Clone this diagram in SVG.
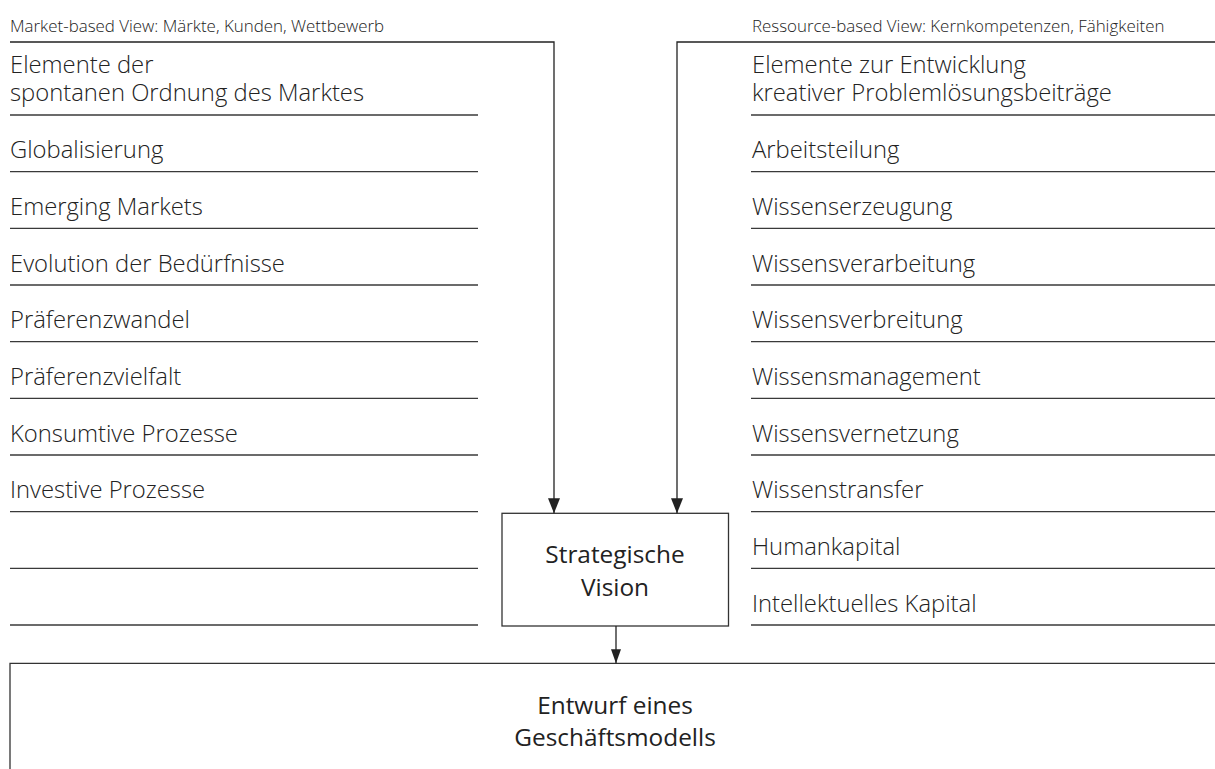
<svg xmlns="http://www.w3.org/2000/svg" width="1215" height="769" viewBox="0 0 1215 769">
  <style>
    .hdr { font-family: "Open Sans", "Liberation Sans", sans-serif; font-size: 16.9px; font-weight: 300; fill: #222; }
    .item { font-family: "Open Sans", "Liberation Sans", sans-serif; font-size: 23.8px; font-weight: 300; fill: #222; }
    .boxtxt { font-family: "Open Sans", "Liberation Sans", sans-serif; font-size: 24.4px; font-weight: 400; fill: #222; text-anchor: middle; }
    .rule { stroke: #3a3a3a; stroke-width: 1.3; fill: none; }
    .conn { stroke: #222; stroke-width: 1.3; fill: none; }
    .box { stroke: #333; stroke-width: 1.3; fill: #fff; }
  </style>
  <defs>
    <marker id="arrow" viewBox="0 0 15 12" refX="15" refY="6" markerWidth="15" markerHeight="12" markerUnits="userSpaceOnUse" orient="auto">
      <path d="M0,0 L15,6 L0,12 z" fill="#222"/>
    </marker>
    <marker id="arrowSmall" viewBox="0 0 14 10" refX="14" refY="5" markerWidth="14" markerHeight="10" markerUnits="userSpaceOnUse" orient="auto">
      <path d="M0,0 L14,5 L0,10 z" fill="#222"/>
    </marker>
  </defs>

  <!-- Market-based view column -->
  <g id="market-view">
    <text class="hdr" x="10" y="32">Market-based View: Märkte, Kunden, Wettbewerb</text>
    <text class="item" x="10" y="73">Elemente der</text>
    <text class="item" x="10" y="101">spontanen Ordnung des Marktes</text>
    <line class="rule" x1="10" y1="115" x2="478" y2="115"/>
    <text class="item" x="10" y="158.2">Globalisierung</text>
    <line class="rule" x1="10" y1="171.7" x2="478" y2="171.7"/>
    <text class="item" x="10" y="214.8">Emerging Markets</text>
    <line class="rule" x1="10" y1="228.3" x2="478" y2="228.3"/>
    <text class="item" x="10" y="271.5">Evolution der Bedürfnisse</text>
    <line class="rule" x1="10" y1="285" x2="478" y2="285"/>
    <text class="item" x="10" y="328.2">Präferenzwandel</text>
    <line class="rule" x1="10" y1="341.7" x2="478" y2="341.7"/>
    <text class="item" x="10" y="384.8">Präferenzvielfalt</text>
    <line class="rule" x1="10" y1="398.3" x2="478" y2="398.3"/>
    <text class="item" x="10" y="441.5">Konsumtive Prozesse</text>
    <line class="rule" x1="10" y1="455" x2="478" y2="455"/>
    <text class="item" x="10" y="498.2">Investive Prozesse</text>
    <line class="rule" x1="10" y1="511.7" x2="478" y2="511.7"/>
    <line class="rule" x1="10" y1="568.3" x2="478" y2="568.3"/>
    <line class="rule" x1="10" y1="625" x2="478" y2="625"/>
  </g>

  <!-- Resource-based view column -->
  <g id="resource-view">
    <text class="hdr" x="752" y="32">Ressource-based View: Kernkompetenzen, Fähigkeiten</text>
    <text class="item" x="752" y="73">Elemente zur Entwicklung</text>
    <text class="item" x="752" y="101">kreativer Problemlösungsbeiträge</text>
    <line class="rule" x1="751" y1="115" x2="1215" y2="115"/>
    <text class="item" x="752" y="158.2">Arbeitsteilung</text>
    <line class="rule" x1="751" y1="171.7" x2="1215" y2="171.7"/>
    <text class="item" x="752" y="214.8">Wissenserzeugung</text>
    <line class="rule" x1="751" y1="228.3" x2="1215" y2="228.3"/>
    <text class="item" x="752" y="271.5">Wissensverarbeitung</text>
    <line class="rule" x1="751" y1="285" x2="1215" y2="285"/>
    <text class="item" x="752" y="328.2">Wissensverbreitung</text>
    <line class="rule" x1="751" y1="341.7" x2="1215" y2="341.7"/>
    <text class="item" x="752" y="384.8">Wissensmanagement</text>
    <line class="rule" x1="751" y1="398.3" x2="1215" y2="398.3"/>
    <text class="item" x="752" y="441.5">Wissensvernetzung</text>
    <line class="rule" x1="751" y1="455" x2="1215" y2="455"/>
    <text class="item" x="752" y="498.2">Wissenstransfer</text>
    <line class="rule" x1="751" y1="511.7" x2="1215" y2="511.7"/>
    <text class="item" x="752" y="554.8">Humankapital</text>
    <line class="rule" x1="751" y1="568.3" x2="1215" y2="568.3"/>
    <text class="item" x="752" y="611.5">Intellektuelles Kapital</text>
    <line class="rule" x1="751" y1="625" x2="1215" y2="625"/>
  </g>

  <!-- Central vision box -->
  <g id="strategic-vision">
    <rect class="box" x="502" y="513.3" width="226.5" height="112.7"/>
    <text class="boxtxt" x="615" y="563">Strategische</text>
    <text class="boxtxt" x="615" y="596">Vision</text>
  </g>

  <!-- Business model box (open towards the bottom/right edge) -->
  <g id="business-model">
    <path class="box" d="M10,769 V663.3 H1216" />
    <text class="boxtxt" x="615" y="714">Entwurf eines</text>
    <text class="boxtxt" x="615" y="746">Geschäftsmodells</text>
  </g>

  <!-- Connectors -->
  <g id="connectors">
    <path class="conn" d="M10,42 H554 V513.3" marker-end="url(#arrow)"/>
    <path class="conn" d="M1215,42 H677 V513.3" marker-end="url(#arrow)"/>
    <path class="conn" d="M616,626 V663.3" marker-end="url(#arrowSmall)"/>
  </g>
</svg>
